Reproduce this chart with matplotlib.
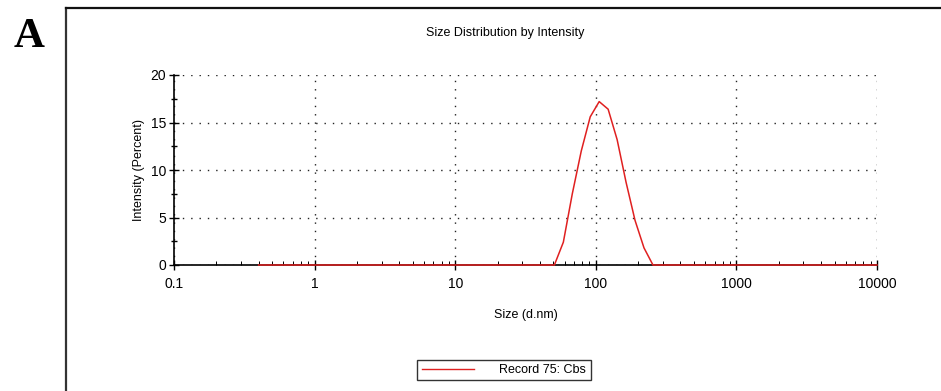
import matplotlib.pyplot as plt
from matplotlib.lines import Line2D
from matplotlib.ticker import LogLocator, FixedLocator, NullFormatter

plt.rcParams['font.family'] = ['Liberation Sans', 'DejaVu Sans']

# size bins (d.nm) and intensity (%)
sizes = [0.4, 50.75, 58.77, 68.06, 78.82, 91.28, 105.7, 122.4, 141.8, 164.2, 190.1, 220.2, 255.0, 10000]
intensity = [0.0, 0.0, 2.4, 7.5, 12.0, 15.6, 17.2, 16.4, 13.2, 8.7, 4.7, 1.8, 0.0, 0.0]

fig = plt.figure(figsize=(9.41, 3.91), dpi=100)
W, H = 941, 391

# outer frame (only top and left visible)
fig.add_artist(Line2D([65.5 / W, 65.5 / W], [0, 1 - 8 / H], color='#333333', lw=1.6))
fig.add_artist(Line2D([65.5 / W, 1], [1 - 8 / H, 1 - 8 / H], color='#111111', lw=1.6))

fig.text(29 / W, 1 - 47 / H, 'A', family='Liberation Serif', fontweight='bold',
         fontsize=31, ha='center', va='baseline')

ax = fig.add_axes([174 / W, 1 - 265 / H, (877 - 174) / W, (265 - 75) / H])
ax.plot(sizes, intensity, color='#e02020', lw=1.1, zorder=3, clip_on=False)

ax.set_xscale('log')
ax.set_xlim(0.1, 10000)
ax.set_ylim(0, 20)
ax.set_xticks([0.1, 1, 10, 100, 1000, 10000])
ax.set_xticklabels(['0.1', '1', '10', '100', '1000', '10000'])
ax.xaxis.set_minor_locator(LogLocator(base=10, subs=range(2, 10)))
ax.xaxis.set_minor_formatter(NullFormatter())
ax.set_yticks([0, 5, 10, 15, 20])
ax.yaxis.set_minor_locator(FixedLocator([2.5, 7.5, 12.5, 17.5]))

for s in ['top', 'right']:
    ax.spines[s].set_visible(False)
ax.spines['left'].set_linewidth(1.2)
ax.spines['bottom'].set_linewidth(1.2)

ax.tick_params(axis='both', which='major', direction='inout', length=7, width=1, labelsize=10)
ax.tick_params(axis='x', which='major', pad=5)
ax.tick_params(axis='y', which='major', pad=2)
ax.tick_params(axis='x', which='minor', direction='in', length=3, width=0.7)
ax.tick_params(axis='y', which='minor', direction='inout', length=5, width=1)

ax.grid(True, which='major', linestyle=(0, (1, 5)), color='#222222', lw=1.0)

ax.set_xlabel('Size (d.nm)', fontsize=9, labelpad=13)
ax.set_ylabel('Intensity (Percent)', fontsize=9, labelpad=4)

fig.text(505 / W, 1 - 33 / H, 'Size Distribution by Intensity', fontsize=9,
         ha='center', va='center')

fig.legend(handles=[Line2D([], [], color='#e02020', lw=1, label='Record 75: Cbs')],
           loc='center', bbox_to_anchor=(504 / W, 1 - 370 / H), fontsize=9,
           frameon=True, fancybox=False, edgecolor='black', handlelength=4.2,
           handletextpad=2.0, borderpad=0.35, borderaxespad=0)

fig.savefig('out.png', dpi=100)
